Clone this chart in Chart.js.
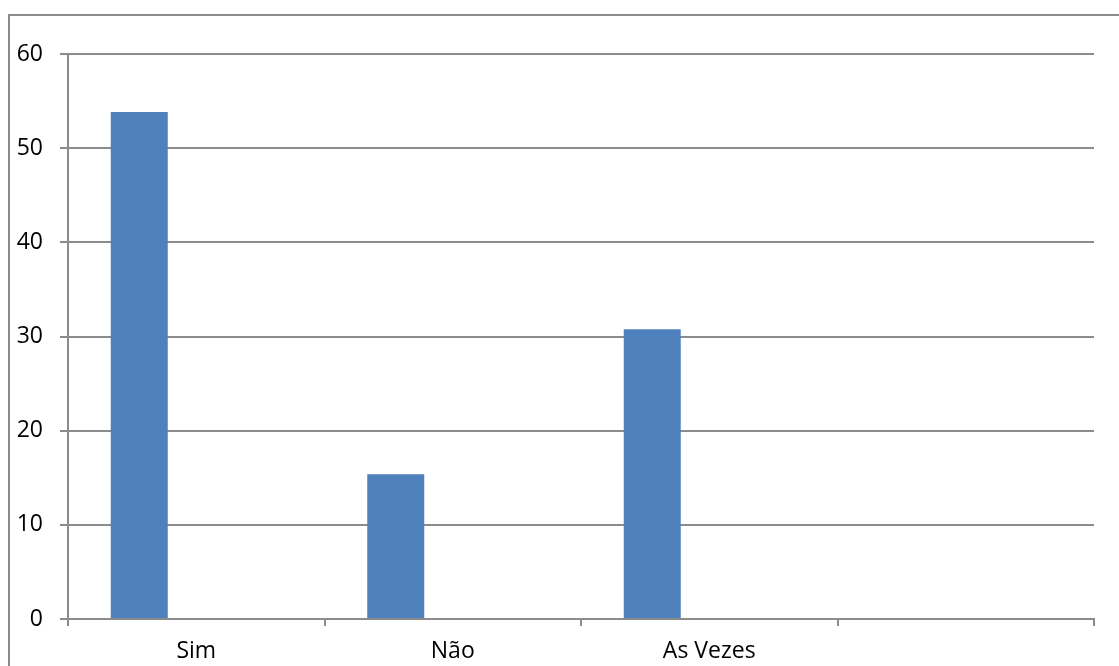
<!DOCTYPE html>
<html>
<head>
<meta charset="utf-8">
<script src="https://cdn.jsdelivr.net/npm/chart.js@4/dist/chart.umd.min.js"></script>
<style>
  html, body { margin: 0; padding: 0; background: #fff; overflow: hidden; }
  #frame {
    position: absolute; left: 8px; top: 14px;
    width: 1300px; height: 900px;
    border: 2px solid #8c8c8c;
  }
  #wrap { position: absolute; left: 0; top: 0; width: 1119px; height: 666px; }
</style>
</head>
<body>
<div id="frame"></div>
<div id="wrap"><canvas id="grafico"></canvas></div>
<script>
// Dados do gráfico
const categorias = ['Sim', 'Não', 'As Vezes', ''];
const serie1 = [53.85, 15.38, 30.77, null];
const serie2 = [null, null, null, null];
const serie3 = [null, null, null, null];
const ticksY = [0, 10, 20, 30, 40, 50, 60];

const corEixo = '#8c8c8c';
const fonte = { family: "'Open Sans', sans-serif", size: 23 };

function initGrafico() {
  const ctx = document.getElementById('grafico');
  if (!ctx) return;

  new Chart(ctx, {
    type: 'bar',
    data: {
      labels: categorias,
      datasets: [
        { label: 'Série1', data: serie1, backgroundColor: '#4f81bd' },
        { label: 'Série2', data: serie2, backgroundColor: '#c0504d' },
        { label: 'Série3', data: serie3, backgroundColor: '#9bbb59' }
      ]
    },
    options: {
      responsive: true,
      maintainAspectRatio: false,
      animation: false,
      categoryPercentage: 3 / 4.5,
      barPercentage: 1,
      layout: { padding: { top: 54, right: 25, left: 0, bottom: 0 } },
      plugins: {
        legend: { display: false },
        tooltip: { enabled: false }
      },
      scales: {
        x: {
          grid: {
            offset: true,
            drawOnChartArea: false,
            drawTicks: true,
            tickLength: 7,
            color: corEixo,
            lineWidth: 2
          },
          border: { display: true, color: corEixo, width: 2 },
          ticks: { color: '#000', font: fonte, padding: 12, maxRotation: 0 },
          afterFit: function(scale) { scale.height = 47; }
        },
        y: {
          min: 0,
          max: 60,
          afterBuildTicks: function(scale) {
            scale.ticks = ticksY.map(v => ({ value: v }));
          },
          grid: { color: corEixo, lineWidth: 2, tickLength: 8 },
          border: { display: true, color: corEixo, width: 2 },
          ticks: { color: '#000', font: fonte, padding: 17 },
          afterFit: function(scale) { scale.width = 68; }
        }
      }
    }
  });
}

document.addEventListener('DOMContentLoaded', initGrafico);
</script>
</body>
</html>
